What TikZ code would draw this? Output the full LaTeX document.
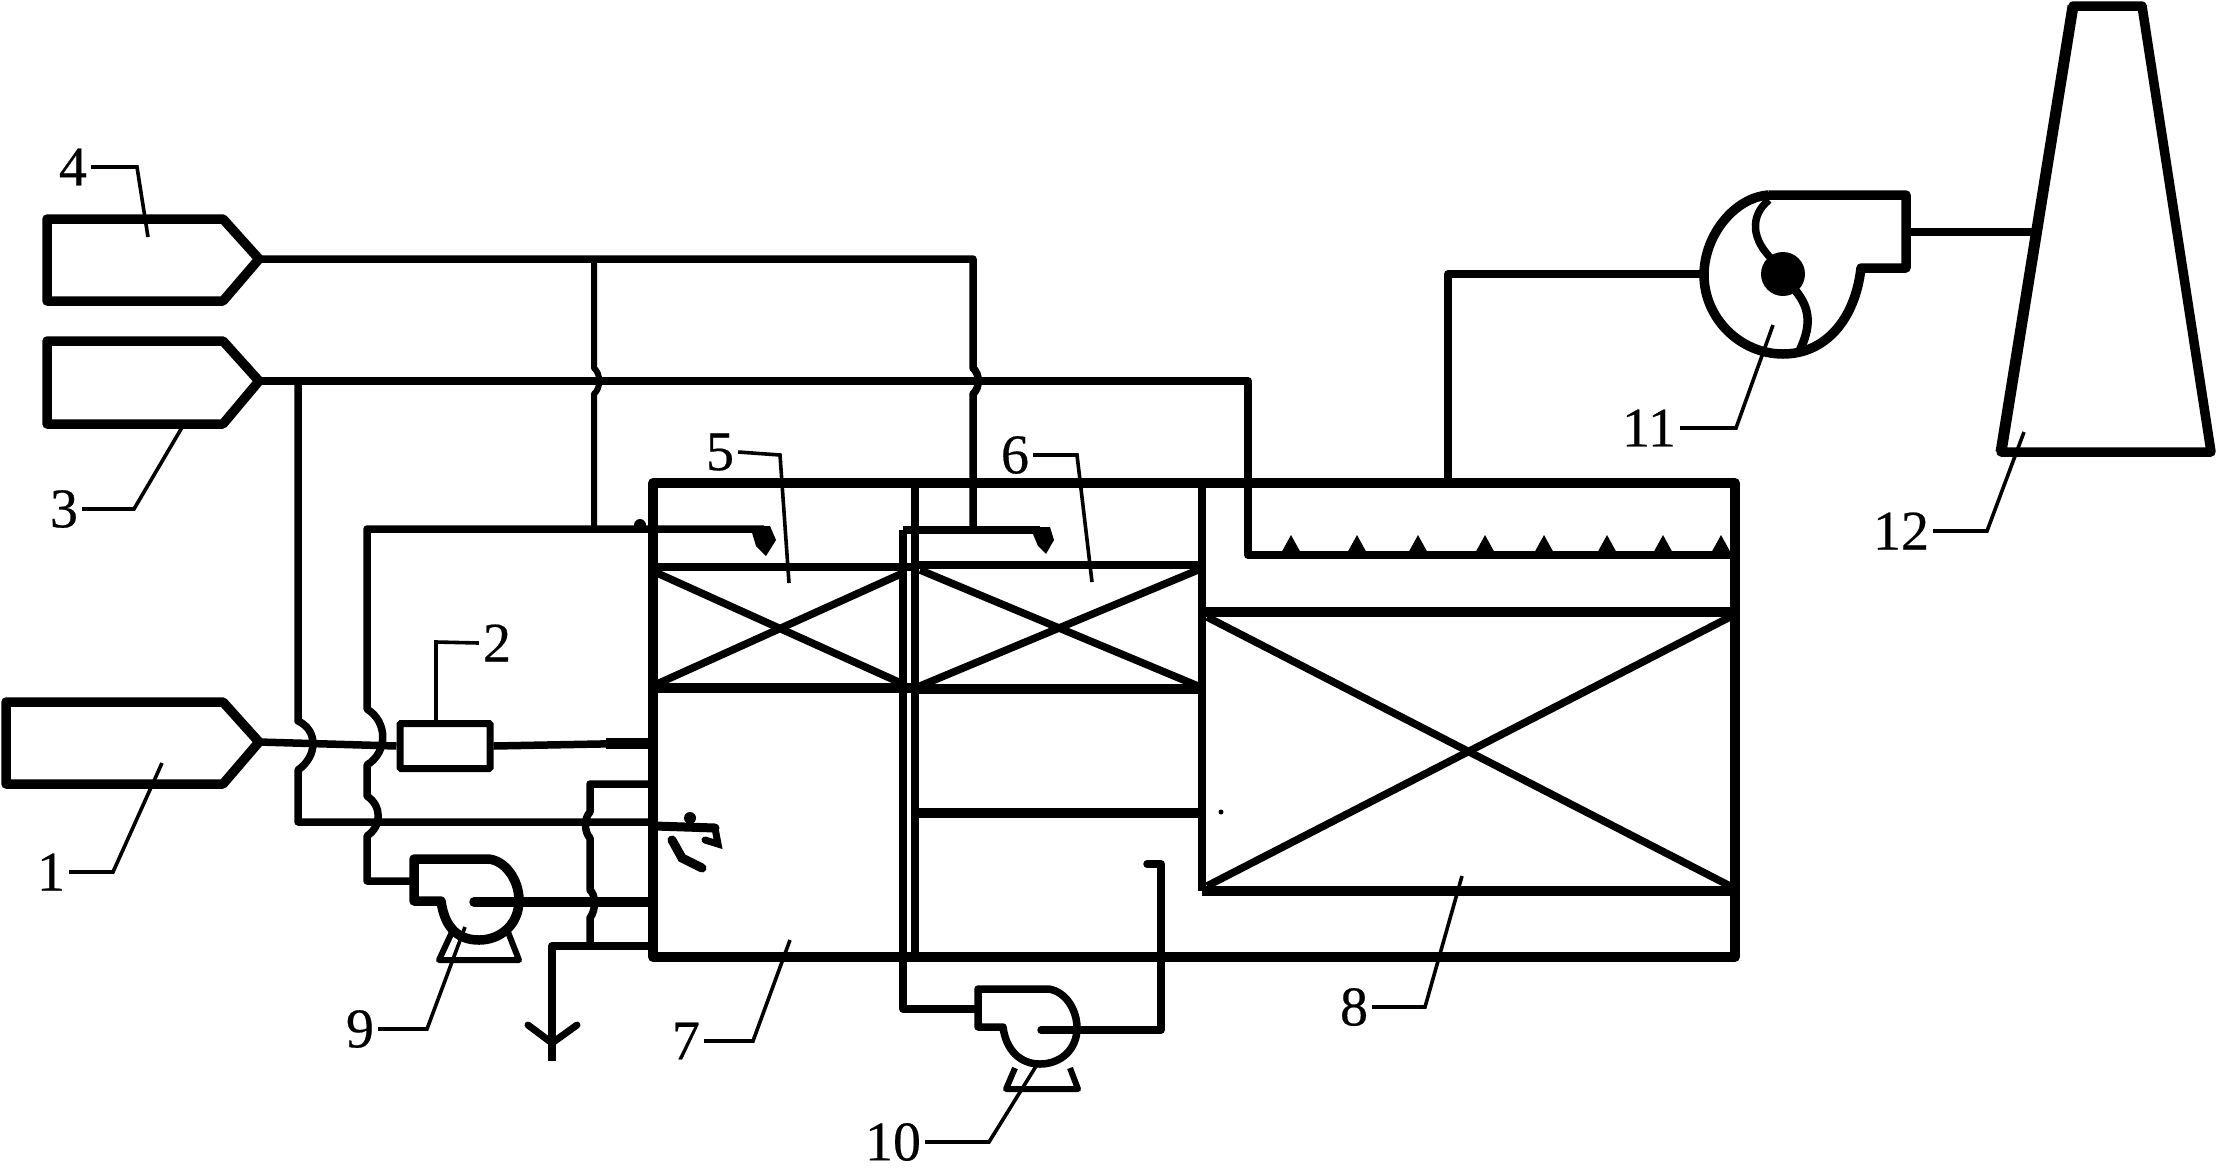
\documentclass[tikz,border=0pt]{standalone}
\usepackage{fontspec}
\setmainfont[FakeBold=0.4]{Liberation Serif}
\tikzset{
  wall/.style={line width=9.5pt,line join=round},
  wallthin/.style={line width=7.5pt,line join=round},
  pipe/.style={line width=7.5pt,line join=round},
  pipethin/.style={line width=6pt,line join=round},
  lead/.style={line width=3.6pt,line join=miter},
  lab/.style={font=\fontsize{56}{56}\selectfont,inner xsep=4pt,inner ysep=0pt},
  tagbox/.style={draw,line width=7pt,minimum width=90pt,minimum height=45pt,inner sep=0pt,rounded corners=1pt}
}
\begin{document}
\begin{tikzpicture}[x=1pt,y=-1pt]
\useasboundingbox (0,0) rectangle (2216,1171);
% feed tanks
\draw[wall] (47,219) -- (223,219) -- (259,259) -- (223,301) -- (47,301) -- cycle;
\draw[wall] (47,341) -- (223,341) -- (259,381) -- (223,424) -- (47,424) -- cycle;
\draw[wall] (6,702) -- (223,702) -- (259,742) -- (223,784) -- (6,784) -- cycle;
\coordinate (t4) at (259,259); \coordinate (t3) at (259,381); \coordinate (t1) at (259,742);
% box 2
\node[tagbox] (box2) at (445,746) {};
% tank outline
\draw[wall] (653,483) -- (1735,483) -- (1735,957) -- (653,957) -- cycle;
\draw[wallthin] (915,483) -- (915,957);
\draw[wallthin] (1202,483) -- (1202,891);
% packing 5
\draw[wallthin] (653,567) -- (915,567);
\draw[wall] (653,688) -- (915,688);
\draw[wallthin] (657,573) -- (903,684);
\draw[wallthin] (657,684) -- (903,573);
% packing 6
\draw[wallthin] (915,565) -- (1202,565);
\draw[wall] (915,689) -- (1202,689);
\draw[wallthin] (920,570) -- (1198,686);
\draw[wallthin] (920,686) -- (1198,570);
\draw[wall] (915,813) -- (1202,813);
% packing 8
\draw[wall] (1202,612) -- (1735,612);
\draw[wall] (1202,891) -- (1735,891);
\draw[wallthin] (1207,617) -- (1730,886);
\draw[wallthin] (1207,886) -- (1730,617);
% line from tank 4
\draw[pipe] (t4) -- (973,259) -- (973,368) .. controls (980,374) and (980,388) .. (973,394) -- (973,527);
\draw[pipethin] (594,259) -- (594,368) .. controls (601,374) and (601,388) .. (594,394) -- (594,527);
% line from tank 3 with spray bar
\draw[pipe] (t3) -- (1248,381) -- (1248,555) -- (1735,555);
\foreach \nx in {1291,1357,1418,1485,1544,1607,1663,1721}
  \fill (\nx-11,555) -- (\nx,535) -- (\nx+11,555) -- cycle;
% branch from tank 3 to chamber 7
\draw[pipe] (298,381) -- (298,721) .. controls (318,730) and (318,756) .. (298,770) -- (298,822) -- (653,822);
% upper header with nozzle 5
\draw[pipe] (764,529) -- (367,529) -- (367,709) .. controls (388,722) and (388,752) .. (367,765) -- (367,796) .. controls (382,806) and (382,826) .. (367,836) -- (367,881) -- (414,881);
\fill (750,526) -- (770,526) -- (776,540) -- (766,556) -- (756,546) -- cycle;
\fill (640,525) circle (6pt);
% upper header with nozzle 6
\draw[pipe] (903,530) -- (1040,530);
\fill (1030,527) -- (1050,527) -- (1054,540) -- (1046,554) -- (1038,546) -- cycle;
% feed line 1
\draw[pipe] (t1) -- (box2.west);
\draw[pipe] (box2.east) -- (653,743);
\draw[line width=11pt] (606,743) -- (653,743);
% small loop and drain
\draw[pipe] (653,784) -- (590,784) -- (590,812) .. controls (584,818) and (584,832) .. (590,838) -- (590,890) .. controls (596,895) and (596,910) .. (590,918) -- (590,946);
\draw[line width=8pt,line join=round] (653,946) -- (552,946) -- (552,1061);
\coordinate (dr) at (552,1043);
\draw[line width=7pt,line cap=round] (528,1025) -- (dr) -- (577,1025);
% nozzle in chamber 7
\draw[line width=9pt,line cap=round] (655,826) -- (715,828);
\draw[line width=9pt,line cap=round] (672,840) -- (682,858) -- (702,868);
\draw[line width=7pt,line cap=round] (715,828) -- (718,844) -- (705,840);
\fill (690,818) circle (6pt);
% pump 9
\draw[wall] (488,859) .. controls (505,860) and (519,880) .. (519,900) .. controls (519,925) and (500,940) .. (479,940) .. controls (460,940) and (445,930) .. (441,901) -- (414,901) -- (414,859) -- cycle;
\draw[pipethin] (452,932) -- (439,960) -- (519,960) -- (508,932);
\draw[line width=9.5pt,line cap=round] (474,902) -- (653,902);
% pump 10
\draw[pipe] (1049,989) .. controls (1066,992) and (1077,1010) .. (1077,1028) .. controls (1077,1050) and (1060,1064) .. (1040,1064) .. controls (1020,1064) and (1006,1050) .. (1003,1027) -- (978,1027) -- (978,989) -- cycle;
\draw[pipethin] (1015,1068) -- (1006,1089) -- (1078,1089) -- (1070,1068);
% return circuit pump 10
\draw[pipe] (903,530) -- (903,1009) -- (978,1009);
\draw[pipe,line cap=round] (1041,1030) -- (1161,1030) -- (1161,864) -- (1147,864);
% stack line
\draw[pipe] (1448,483) -- (1448,274) -- (1704,274);
% fan 11
\draw[wall] (1769,195) -- (1906,195) -- (1906,268) -- (1861,268) .. controls (1855,320) and (1825,354) .. (1783,354) .. controls (1740,354) and (1704,318) .. (1704,275) .. controls (1704,235) and (1735,197) .. (1769,195);
\draw[pipe] (1769,200) .. controls (1750,215) and (1750,240) .. (1775,262);
\draw[line width=8.5pt] (1795,290) .. controls (1812,310) and (1810,328) .. (1800,350);
\fill (1783,274) circle (22pt);
\draw[pipe] (1906,232) -- (2036,232);
% chimney
\draw[wall] (2073,6) -- (2142,6) -- (2211,452) -- (2001,452) -- cycle;
\draw[line width=11pt] (2073,6) -- (2001,452);
% labels and leaders
\node[lab] (l1) at (51,872) {1};
\node[lab] (l2) at (497,643) {2};
\node[lab] (l3) at (64,509) {3};
\node[lab] (l4) at (73,167) {4};
\node[lab] (l5) at (720,452) {5};
\node[lab] (l6) at (1015,455) {6};
\node[lab] (l7) at (686,1041) {7};
\node[lab] (l8) at (1354,1007) {8};
\node[lab] (l9) at (360,1029) {9};
\node[lab] (l10) at (893,1142) {10};
\node[lab] (l11) at (1649,428) {11};
\node[lab] (l12) at (1901,531) {12};
\draw[lead] (l1.east) -- (113,872) -- (162,763);
\draw[lead] (l2.west) -- (436,642) -- ([xshift=-9pt]box2.north);
\draw[lead] (l3.east) -- (134,509) -- (184,424);
\draw[lead] (l4.east) -- (137,167) -- (148,237);
\draw[lead] (l5.east) -- (780,455) -- (789,583);
\draw[lead] (l6.east) -- (1077,455) -- (1092,582);
\draw[lead] (l7.east) -- (753,1041) -- (790,940);
\draw[lead] (l8.east) -- (1425,1007) -- (1462,876);
\draw[lead] (l9.east) -- (427,1029) -- (465,927);
\draw[lead] (l10.east) -- (989,1142) -- (1038,1063);
\draw[lead] (l11.east) -- (1736,428) -- (1773,325);
\draw[lead] (l12.east) -- (1987,531) -- (2024,432);
\fill (1221,812) circle (2.5pt);
\end{tikzpicture}
\end{document}
